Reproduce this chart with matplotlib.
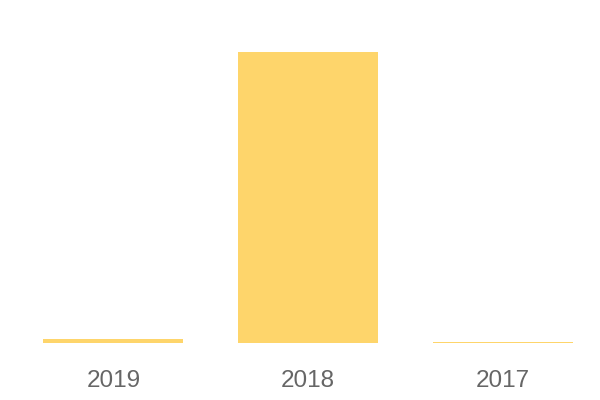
import matplotlib
matplotlib.use('Agg')
import matplotlib.pyplot as plt

years = ['2019', '2018', '2017']
values = [1.4, 100, 0.35]

bar_color = '#FED56B'
text_color = '#666666'

fig = plt.figure(figsize=(6, 4), dpi=100)
ax = fig.add_axes([16 / 600, 1 - 343 / 400, 584 / 600, 323 / 400])

ax.bar(range(len(years)), values, width=0.72, color=bar_color)
ax.set_xlim(-0.5, len(years) - 0.5)
ax.set_ylim(0, 100 * 323 / 291)

ax.set_xticks(range(len(years)))
ax.set_xticklabels(years, fontsize=17.5, color=text_color, family='Liberation Sans')
ax.tick_params(axis='x', length=0, pad=19.5)
ax.set_yticks([])
for s in ax.spines.values():
    s.set_visible(False)

fig.savefig('out.png', dpi=100)
